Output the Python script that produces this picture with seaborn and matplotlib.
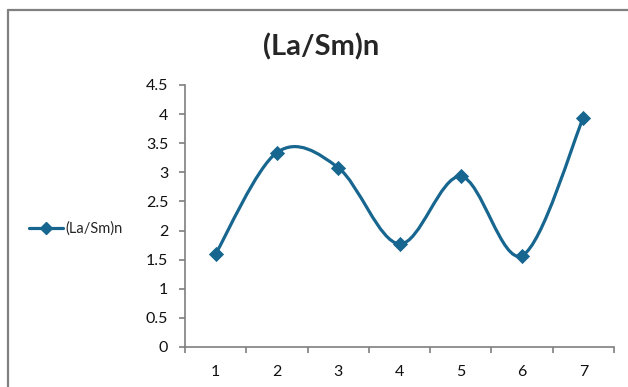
import matplotlib

matplotlib.use("Agg")
import matplotlib.pyplot as plt  # noqa: E402
import seaborn as sns  # noqa: E402
from matplotlib.lines import Line2D  # noqa: E402
from matplotlib.path import Path  # noqa: E402
from matplotlib.patches import PathPatch  # noqa: E402

import pandas as pd

samples = [1, 2, 3, 4, 5, 6, 7]
la_sm_n = [1.6, 3.34, 3.08, 1.77, 2.93, 1.57, 3.94]
y_ticks = [0, 0.5, 1, 1.5, 2, 2.5, 3, 3.5, 4, 4.5]
series_name = "(La/Sm)n"

COLOR = "#17668f"

df = pd.DataFrame({"sample": samples, "value": la_sm_n})

sns.set_style("white")
plt.rcParams["font.family"] = ["Lato", "DejaVu Sans"]

fig = plt.figure(figsize=(6.28, 3.87), dpi=100)
ax = fig.add_axes([185 / 628, 1 - 347 / 387, (614 - 185) / 628, (347 - 85) / 387])


def smooth_path(xs, ys):
    # excel-style smoothed line: cubic bezier through every point
    pts = list(zip(xs, ys))
    n = len(pts)
    verts = [pts[0]]
    codes = [Path.MOVETO]
    for i in range(n - 1):
        p0 = pts[max(i - 1, 0)]
        p1 = pts[i]
        p2 = pts[i + 1]
        p3 = pts[min(i + 2, n - 1)]
        c1 = (p1[0] + (p2[0] - p0[0]) / 6, p1[1] + (p2[1] - p0[1]) / 6)
        c2 = (p2[0] - (p3[0] - p1[0]) / 6, p2[1] - (p3[1] - p1[1]) / 6)
        verts += [c1, c2, p2]
        codes += [Path.CURVE4] * 3
    return Path(verts, codes)


ax.add_patch(PathPatch(smooth_path(df["sample"], df["value"]), fill=False,
                       edgecolor=COLOR, linewidth=2.3, capstyle="round"))
sns.scatterplot(data=df, x="sample", y="value", marker="D", s=60, color=COLOR,
                edgecolor=COLOR, linewidth=0, ax=ax, zorder=3, legend=False)

ax.set_xlim(0.5, 7.5)
ax.set_ylim(0, 4.5)
ax.set_yticks(y_ticks)
ax.set_yticklabels([f"{t:g}" for t in y_ticks])
ax.set_xticks(samples)
ax.set_xticks([s + 0.5 for s in [0] + samples], minor=True)
ax.set_xlabel("")
ax.set_ylabel("")

for side in ["top", "right"]:
    ax.spines[side].set_visible(False)
for side in ["left", "bottom"]:
    ax.spines[side].set_color("#7f7f7f")
    ax.spines[side].set_linewidth(1.2)

ax.tick_params(axis="y", which="major", direction="out", length=4, width=1.2,
               color="#7f7f7f", labelsize=11.5, pad=8, left=True, labelcolor="#111111")
ax.tick_params(axis="x", which="major", length=0, labelsize=11.5, pad=13,
               labelcolor="#111111")
ax.tick_params(axis="x", which="minor", direction="out", length=4, width=1.2,
               color="#7f7f7f", bottom=True)

fig.text(321 / 628, 1 - 47 / 387, series_name, ha="center", va="center",
         fontsize=21, fontweight="bold")

handle = Line2D([], [], color=COLOR, linewidth=2.3, marker="D", markersize=6.5)
fig.legend([handle], [series_name], loc="center left",
           bbox_to_anchor=(16 / 628, 1 - 229 / 387), frameon=False,
           fontsize=10.5, handlelength=2.3, handletextpad=0.2)

# outer chart border
fig.add_artist(Line2D([8 / 628, 1], [1 - 10 / 387] * 2, color="#808080", linewidth=1.6))
fig.add_artist(Line2D([8 / 628] * 2, [0, 1 - 10 / 387], color="#808080", linewidth=1.6))

fig.savefig("out.png", dpi=100)
